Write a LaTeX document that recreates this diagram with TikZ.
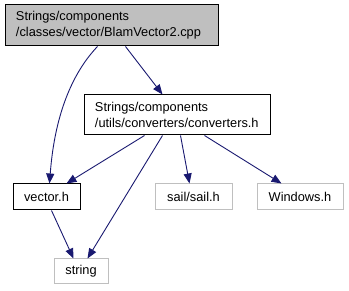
\documentclass[tikz,border=0pt]{standalone}
\usepackage{fontspec}
\setmainfont{Liberation Sans}
\usetikzlibrary{arrows.meta,calc}
\definecolor{edgec}{HTML}{191970}
\definecolor{grayb}{HTML}{BFBFBF}
\tikzset{
  box/.style={draw=black, line width=1pt, rectangle, inner sep=0pt, font=\fontsize{12.8}{16}\selectfont},
  gbox/.style={box, draw=grayb},
  edge/.style={draw=edgec, line width=0.9pt, -{Triangle[length=10pt,width=8pt]}},
}
\begin{document}
\begin{tikzpicture}[x=1pt,y=-1pt]
\useasboundingbox (0,0) rectangle (349,291);
\node[box, fill=grayb, minimum width=213pt, minimum height=41pt, align=left, text width=191pt] (top) at (111.5,25.5) {Strings/components\\/classes/vector/BlamVector2.cpp};
\node[box, minimum width=186pt, minimum height=40pt, align=left, text width=164pt] (conv) at (177,115) {Strings/components\\/utils/converters/converters.h};
\node[box, minimum width=67pt, minimum height=26pt] (vec) at (46.5,197) {vector.h};
\node[gbox, minimum width=77pt, minimum height=26pt] (sail) at (193.5,197) {sail/sail.h};
\node[gbox, minimum width=86pt, minimum height=26pt] (win) at (300,197) {Windows.h};
\node[gbox, minimum width=54pt, minimum height=25pt] (str) at (81,271.5) {string};
\draw[edge] ($(top.south west)+(93,0)$) .. controls (75,70) and (55,110) .. ($(vec.north west)+(37,0)$);
\draw[edge] ($(top.south west)+(121,0)$) -- ($(conv.north west)+(79,0)$);
\draw[edge] ($(conv.south west)+(61,0)$) -- ($(vec.north west)+(54,0)$);
\draw[edge] ($(conv.south west)+(79,0)$) -- ($(str.north west)+(34,0)$);
\draw[edge] ($(conv.south west)+(97,0)$) -- ($(sail.north west)+(35,0)$);
\draw[edge] ($(conv.south west)+(121,0)$) -- ($(win.north west)+(25,0)$);
\draw[edge] ($(vec.south west)+(39,0)$) -- ($(str.north west)+(20,0)$);
\end{tikzpicture}
\end{document}
